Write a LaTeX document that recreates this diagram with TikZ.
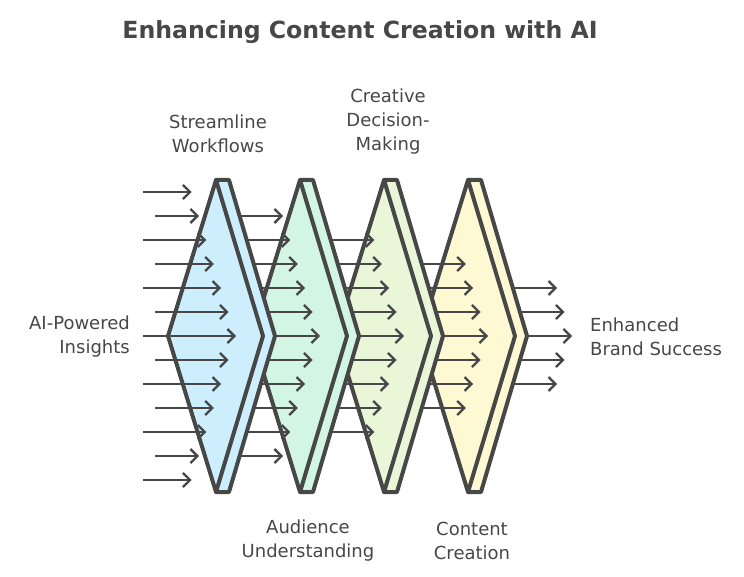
\documentclass[tikz,border=0pt]{standalone}
\usepackage{fontspec}
\setmainfont{DejaVu Sans}
\usepackage{tikz}
\usetikzlibrary{arrows.meta}
\definecolor{ink}{HTML}{474747}
\definecolor{lensblue}{HTML}{CDEFFD}
\definecolor{lensgreen}{HTML}{D3F5E4}
\definecolor{lenslime}{HTML}{E9F6D7}
\definecolor{lensyellow}{HTML}{FEF8D3}
\tikzset{>={Straight Barb[length=7pt,width=14pt]}}
\tikzset{
    ray/.style={->, color=ink, line width=2.3pt},
    lensline/.style={color=ink, line width=4pt, line join=round},
    lbl/.style={text=ink, inner sep=0pt, font=\fontsize{18}{24}\selectfont}
}
% one lens: #1 = centre x, #2 = fill colour
\newcommand{\drawlens}[2]{%
    \draw[lensline, fill=#2] (#1,180) -- (#1+13,180) -- (#1+59,336) -- (#1+13,492) -- (#1,492) -- cycle;
    \draw[lensline, fill=#2] (#1,180) -- (#1-48,336) -- (#1,492) -- (#1+47,336) -- cycle;
}

\begin{document}
\begin{tikzpicture}[x=1pt, y=-1pt]
    \useasboundingbox (0,0) rectangle (744,577);
    \def\step{24};
    \def\slope{7.4};

    % output rays
    \foreach \i in {-2,...,2} {
        \pgfmathsetmacro\tip{572 - \slope*abs(\i)};
        \draw[ray] (\tip-48, 336+\i*\step) -- (\tip, 336+\i*\step);
    }
    \drawlens{468}{lensyellow}

    \foreach \i in {-3,...,3} {
        \pgfmathsetmacro\tip{488 - \slope*abs(\i)};
        \draw[ray] (\tip-48, 336+\i*\step) -- (\tip, 336+\i*\step);
    }
    \drawlens{384}{lenslime}

    \foreach \i in {-4,...,4} {
        \pgfmathsetmacro\tip{404 - \slope*abs(\i)};
        \draw[ray] (\tip-48, 336+\i*\step) -- (\tip, 336+\i*\step);
    }
    \drawlens{300}{lensgreen}

    \foreach \i in {-5,...,5} {
        \pgfmathsetmacro\tip{320 - \slope*abs(\i)};
        \draw[ray] (\tip-48, 336+\i*\step) -- (\tip, 336+\i*\step);
    }
    \drawlens{216}{lensblue}

    % input rays, staggered start
    \foreach \i in {-6,...,6} {
        \pgfmathsetmacro\tip{236 - \slope*abs(\i)};
        \pgfmathsetmacro\start{isodd(\i) ? 155 : 143};
        \draw[ray] (\start, 336+\i*\step) -- (\tip, 336+\i*\step);
    }

    \node[text=ink, inner sep=0pt, font=\fontsize{23.6}{28}\selectfont\bfseries] (title) at (360,32) {Enhancing Content Creation with AI};

    \node[lbl, align=center] (workflows) at (218,134) {Streamline\\Workflows};
    \node[lbl, align=center] (decision) at (388,122) {Creative\\Decision-\\Making};
    \node[lbl, align=center] (audience) at (308,541) {Audience\\Understanding};
    \node[lbl, align=center] (creation) at (472,541) {Content\\Creation};
    \node[lbl, align=right, anchor=east] (insights) at (130,337) {AI-Powered\\Insights};
    \node[lbl, align=left, anchor=west] (success) at (590,337) {Enhanced\\Brand Success};

\end{tikzpicture}
\end{document}
